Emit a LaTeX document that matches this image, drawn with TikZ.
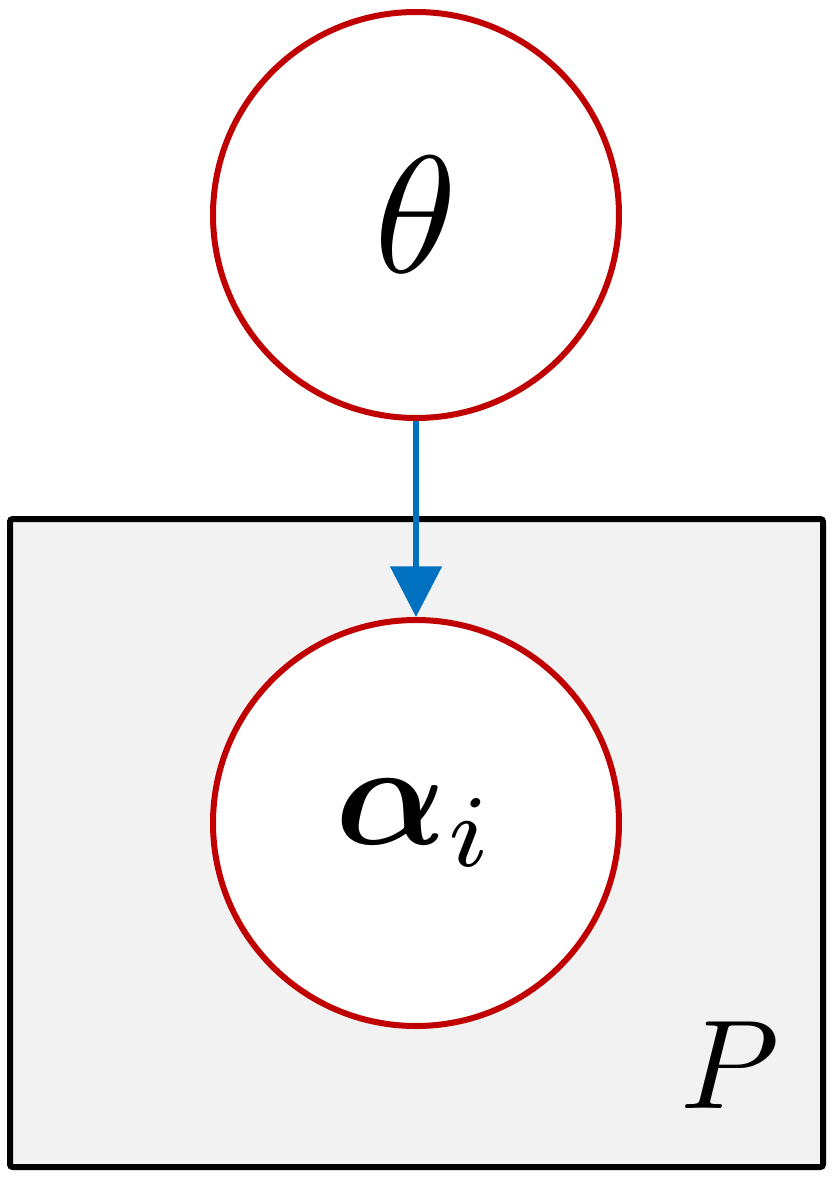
\documentclass[tikz,border=0pt]{standalone}
\usepackage{amsmath}
\usetikzlibrary{arrows.meta}
\definecolor{cred}{RGB}{192,0,0}
\definecolor{cblue}{RGB}{0,112,192}
\definecolor{cgray}{RGB}{242,242,242}
\begin{document}
\begin{tikzpicture}[x=0.75pt,y=-0.75pt,
  var/.style={circle,draw=cred,line width=4.5pt,fill=white,minimum size=406*0.75pt,inner sep=0pt}]
\useasboundingbox (0,0) rectangle (833,1181);
\draw[line width=4.5pt,fill=cgray,rounded corners=2pt] (10,519) rectangle (823,1167);
\node[var] (t) at (416,215) {\scalebox{12.5}{$\theta$}};
\node[var] (a) at (416,823) {\scalebox{11}{$\boldsymbol{\alpha}_i$}};
\node (p) at (730,1065) {\scalebox{9.5}{$P$}};
\draw[cblue,line width=4.5pt,-{Triangle[width=38pt,length=38pt]}] (t) -- (a);
\end{tikzpicture}
\end{document}
